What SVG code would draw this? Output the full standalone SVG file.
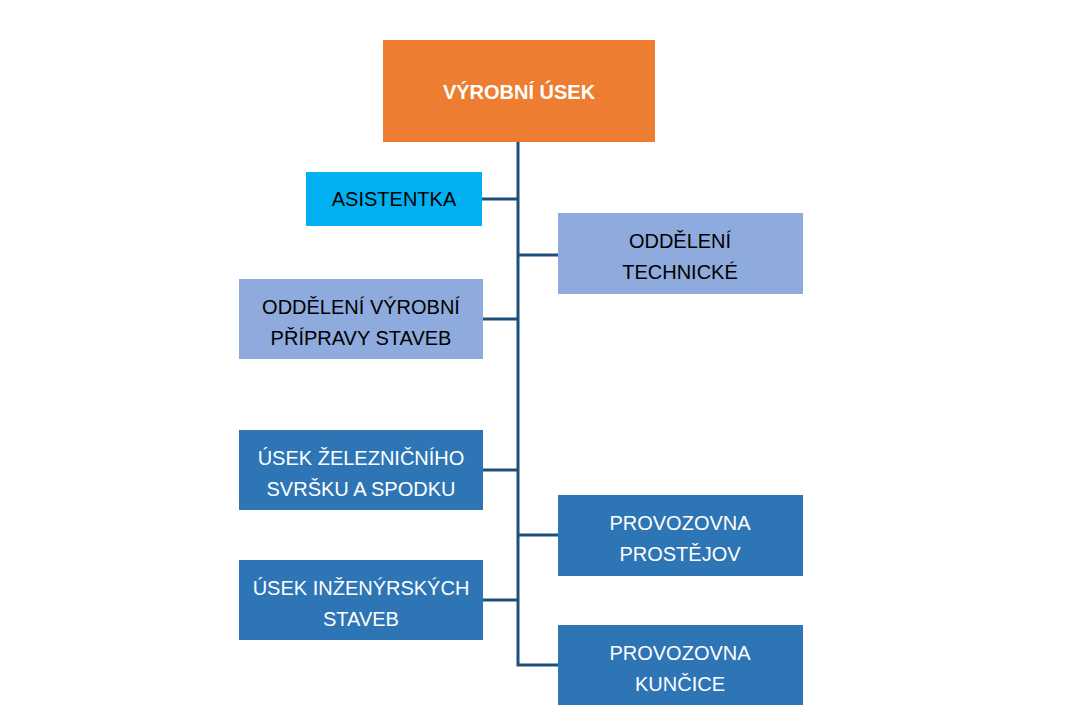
<svg xmlns="http://www.w3.org/2000/svg" width="1080" height="724" viewBox="0 0 1080 724">
<style>
.t{font-family:"Liberation Sans",Arial,sans-serif;font-size:20px;text-anchor:middle}
.w{fill:#fff}.k{fill:#000}
.c{stroke:#1F4E79;stroke-width:3;fill:none}
</style>
<rect width="1080" height="724" fill="#fff"/>
<g id="connectors">
<path class="c" d="M518 142V665H558M482 199H518M518 255H558M483 319H518M483 470H518M518 535H558M483 600H518"/>
</g>
<g id="top"><rect x="383" y="40" width="272" height="102" fill="#ED7D31"/><text class="t w" x="519" y="99" font-weight="bold" font-size="24">VÝROBNÍ ÚSEK</text></g>
<g id="asistentka"><rect x="306" y="172" width="176" height="54" fill="#00B0F0"/><text class="t k" x="394" y="206">ASISTENTKA</text></g>
<g id="technicke"><rect x="558" y="213" width="245" height="81" fill="#8FAADC"/><text class="t k" x="680" y="248">ODDĚLENÍ</text><text class="t k" x="680" y="279">TECHNICKÉ</text></g>
<g id="priprava"><rect x="239" y="279" width="244" height="80" fill="#8FAADC"/><text class="t k" x="361" y="314">ODDĚLENÍ VÝROBNÍ</text><text class="t k" x="361" y="345">PŘÍPRAVY STAVEB</text></g>
<g id="zeleznicni"><rect x="239" y="430" width="244" height="80" fill="#2E75B6"/><text class="t w" x="361" y="465">ÚSEK ŽELEZNIČNÍHO</text><text class="t w" x="361" y="496">SVRŠKU A SPODKU</text></g>
<g id="prostejov"><rect x="558" y="495" width="245" height="81" fill="#2E75B6"/><text class="t w" x="680" y="530">PROVOZOVNA</text><text class="t w" x="680" y="561">PROSTĚJOV</text></g>
<g id="inzenyrske"><rect x="239" y="560" width="244" height="80" fill="#2E75B6"/><text class="t w" x="361" y="595">ÚSEK INŽENÝRSKÝCH</text><text class="t w" x="361" y="626">STAVEB</text></g>
<g id="kuncice"><rect x="558" y="625" width="245" height="80" fill="#2E75B6"/><text class="t w" x="680" y="660">PROVOZOVNA</text><text class="t w" x="680" y="691">KUNČICE</text></g>
</svg>
